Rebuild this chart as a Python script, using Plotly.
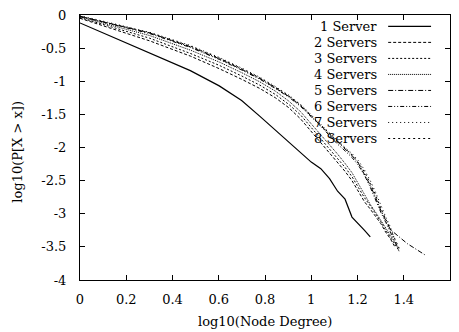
import numpy as np
import plotly.graph_objects as go

# Complementary CDF of node degree, log-log, per number of servers
series_names = ["1 Server", "2 Servers", "3 Servers", "4 Servers",
                "5 Servers", "6 Servers", "7 Servers", "8 Servers"]

deg_1 = list(range(1, 19))
ccdf_1 = [-0.12, -0.57, -0.84, -1.07, -1.29, -1.53, -1.74, -1.93, -2.08, -2.22,
          -2.32, -2.47, -2.66, -2.78, -3.05, -3.15, -3.25, -3.35]

deg_2 = list(range(1, 24))
ccdf_2 = [-0.05, -0.39, -0.62, -0.81, -0.97, -1.11, -1.25, -1.40, -1.57, -1.76,
          -1.93, -2.08, -2.22, -2.36, -2.50, -2.66, -2.82, -2.93, -3.05, -3.15,
          -3.28, -3.38, -3.50]

deg_3 = list(range(1, 25))
ccdf_3 = [-0.04, -0.35, -0.58, -0.76, -0.92, -1.06, -1.20, -1.35, -1.51, -1.70,
          -1.87, -2.02, -2.16, -2.30, -2.44, -2.60, -2.76, -2.88, -3.00, -3.12,
          -3.25, -3.36, -3.45, -3.56]

deg_4 = list(range(1, 25))
ccdf_4 = [-0.03, -0.31, -0.53, -0.71, -0.87, -1.01, -1.15, -1.30, -1.46, -1.64,
          -1.81, -1.96, -2.10, -2.24, -2.38, -2.55, -2.72, -2.86, -2.98, -3.10,
          -3.22, -3.33, -3.43, -3.53]

deg_5 = list(range(1, 23)) + [26, 31]
ccdf_5 = [-0.02, -0.27, -0.48, -0.66, -0.82, -0.96, -1.10, -1.23, -1.37, -1.52,
          -1.67, -1.80, -1.92, -2.02, -2.12, -2.24, -2.40, -2.57, -2.76, -2.95,
          -3.10, -3.24, -3.45, -3.62]

deg_6 = list(range(1, 25))
ccdf_6 = [-0.02, -0.28, -0.49, -0.67, -0.83, -0.97, -1.11, -1.24, -1.38, -1.53,
          -1.68, -1.82, -1.95, -2.05, -2.15, -2.27, -2.42, -2.60, -2.80, -2.98,
          -3.13, -3.27, -3.42, -3.57]

deg_7 = list(range(1, 24))
ccdf_7 = [-0.01, -0.26, -0.46, -0.64, -0.80, -0.94, -1.08, -1.21, -1.35, -1.50,
          -1.65, -1.78, -1.90, -2.00, -2.09, -2.20, -2.34, -2.50, -2.68, -2.88,
          -3.05, -3.20, -3.40]

deg_8 = list(range(1, 25))
ccdf_8 = [-0.02, -0.27, -0.47, -0.65, -0.81, -0.95, -1.09, -1.22, -1.36, -1.51,
          -1.66, -1.79, -1.91, -2.01, -2.11, -2.23, -2.37, -2.54, -2.72, -2.92,
          -3.08, -3.22, -3.38, -3.52]

x_tick_vals = [0, 0.2, 0.4, 0.6, 0.8, 1.0, 1.2, 1.4, 1.6]
x_tick_text = ["0", "0.2", "0.4", "0.6", "0.8", "1", "1.2", "1.4", "1.6"]
y_tick_vals = [0, -0.5, -1, -1.5, -2, -2.5, -3, -3.5, -4]
y_tick_text = ["0", "-0.5", "-1", "-1.5", "-2", "-2.5", "-3", "-3.5", "-4"]

degrees = [deg_1, deg_2, deg_3, deg_4, deg_5, deg_6, deg_7, deg_8]
values = [ccdf_1, ccdf_2, ccdf_3, ccdf_4, ccdf_5, ccdf_6, ccdf_7, ccdf_8]

# gnuplot-like monochrome dash styles
dashes = ["solid", "3px,2px", "2px,2px", "1px,1px",
          "5px,2px,1px,2px", "4px,2px,1px,2px,1px,2px", "1px,3px", "2px,3px"]
widths = [1.2, 1, 1, 1, 1, 1, 1, 1]

FONT = "DejaVu Serif"
FS = 13
W, H = 459, 332
L, R, T, B = 80, 8, 12, 52
plot_w, plot_h = W - L - R, H - T - B

fig = go.Figure()
for name, d, v, dash, lw in zip(series_names, degrees, values, dashes, widths):
    fig.add_trace(go.Scatter(
        x=np.log10(d), y=v, mode="lines", name=name,
        line=dict(color="black", width=lw, dash=dash),
        showlegend=False,
    ))

# key in the top-right corner: label on the left, line sample on the right
def px_x(p):
    return (p - L) / plot_w

def px_y(p):
    return (H - B - p) / plot_h

row0, row_step = 23.5, 16.2
for i, (name, dash, lw) in enumerate(zip(series_names, dashes, widths)):
    yy = px_y(row0 + i * row_step)
    fig.add_annotation(
        x=px_x(380), y=yy, xref="paper", yref="paper",
        text=name, showarrow=False, xanchor="right", yanchor="middle",
        font=dict(family=FONT, size=FS, color="black"),
    )
    fig.add_shape(
        type="line", xref="paper", yref="paper",
        x0=px_x(389), x1=px_x(432), y0=yy, y1=yy,
        line=dict(color="black", width=lw, dash=dash),
    )

fig.add_annotation(
    x=0.5, y=px_y(322), xref="paper", yref="paper",
    text="log10(Node Degree)", showarrow=False, xanchor="center", yanchor="middle",
    font=dict(family=FONT, size=FS, color="black"),
)
fig.add_annotation(
    x=px_x(17), y=px_y(150), xref="paper", yref="paper",
    text="log10(P[X > x])", showarrow=False, textangle=-90,
    xanchor="center", yanchor="middle",
    font=dict(family=FONT, size=FS, color="black"),
)

axis_common = dict(
    showline=True, linecolor="black", linewidth=1, mirror="ticks",
    ticks="inside", ticklen=5, tickcolor="black", tickwidth=1,
    showgrid=False, zeroline=False,
    tickfont=dict(family=FONT, size=FS, color="black"),
)
fig.update_xaxes(range=[0, 1.6], tickmode="array", tickvals=x_tick_vals,
                 ticktext=x_tick_text, ticklabelstandoff=7, **axis_common)
fig.update_yaxes(range=[-4, 0], tickmode="array", tickvals=y_tick_vals,
                 ticktext=y_tick_text, ticklabelstandoff=10, **axis_common)

fig.update_layout(
    width=W, height=H,
    margin=dict(l=L, r=R, t=T, b=B),
    paper_bgcolor="white", plot_bgcolor="white",
    font=dict(family=FONT, size=FS, color="black"),
)

fig.write_html("out.html")
